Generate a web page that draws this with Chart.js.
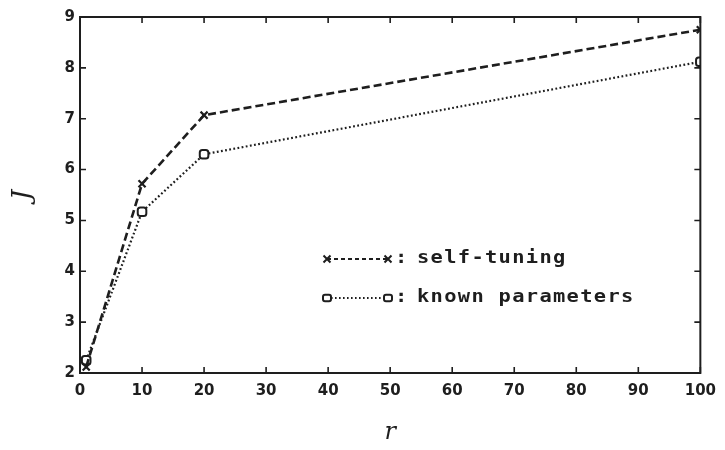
<!DOCTYPE html>
<html>
<head>
<meta charset="utf-8">
<style>
  html, body { margin: 0; padding: 0; background: #fff; }
  #wrap { width: 725px; height: 450px; }
</style>
<script src="https://cdn.jsdelivr.net/npm/chart.js@4/dist/chart.umd.min.js"></script>
</head>
<body>
<div id="wrap"><canvas id="c" width="725" height="450"></canvas></div>
<script>
// r values and cost J for the two controllers
const rValues = [1, 10, 20, 100];
const selfTuning = [2.12, 5.72, 7.07, 8.75];
const knownParams = [2.25, 5.17, 6.30, 8.12];

const xTicks = [0, 10, 20, 30, 40, 50, 60, 70, 80, 90, 100];
const yTicks = [2, 3, 4, 5, 6, 7, 8, 9];

const legendLabels = ['self-tuning', 'known parameters'];

const INK = '#1e1e1e';

function toPoints(ys) {
  return rValues.map((x, i) => ({ x: x, y: ys[i] }));
}

function drawCross(ctx, x, y, r) {
  ctx.beginPath();
  ctx.moveTo(x - r, y - r); ctx.lineTo(x + r, y + r);
  ctx.moveTo(x - r, y + r); ctx.lineTo(x + r, y - r);
  ctx.stroke();
}

function drawBox(ctx, x, y, r) {
  ctx.beginPath();
  ctx.roundRect(x - r, y - r * 0.8, 2 * r, 1.6 * r, 2);
  ctx.fillStyle = '#fff';
  ctx.fill();
  ctx.stroke();
}

// wide plotter-style text: monospace glyphs stretched horizontally
function wideText(ctx, text, x, y) {
  ctx.save();
  ctx.translate(x, y);
  ctx.scale(1.2, 1);
  ctx.fillText(text, 0, 0);
  ctx.restore();
}

// frame around the plot, inward tick marks and the in-plot key
const framePlugin = {
  id: 'frame',
  afterDraw(chart) {
    const { ctx, chartArea: a, scales } = chart;
    ctx.save();
    ctx.strokeStyle = INK;
    ctx.lineWidth = 2;
    ctx.strokeRect(a.left, a.top, a.right - a.left, a.bottom - a.top);

    const len = 6;
    ctx.lineWidth = 1.6;
    ctx.beginPath();
    xTicks.forEach(v => {
      const px = scales.x.getPixelForValue(v);
      ctx.moveTo(px, a.bottom); ctx.lineTo(px, a.bottom - len);
      ctx.moveTo(px, a.top); ctx.lineTo(px, a.top + len);
    });
    yTicks.forEach(v => {
      const py = scales.y.getPixelForValue(v);
      ctx.moveTo(a.left, py); ctx.lineTo(a.left + len, py);
      ctx.moveTo(a.right, py); ctx.lineTo(a.right - len, py);
    });
    ctx.stroke();

    // key
    const kx0 = 327, kx1 = 388, ky = [259, 298];
    ctx.lineWidth = 2;
    ctx.setLineDash([4, 3]);
    ctx.beginPath(); ctx.moveTo(kx0, ky[0]); ctx.lineTo(kx1, ky[0]); ctx.stroke();
    ctx.setLineDash([1.6, 2.4]);
    ctx.beginPath(); ctx.moveTo(kx0, ky[1]); ctx.lineTo(kx1, ky[1]); ctx.stroke();
    ctx.setLineDash([]);
    ctx.lineWidth = 2;
    drawCross(ctx, kx0, ky[0], 3.5);
    drawCross(ctx, kx1, ky[0], 3.5);
    drawBox(ctx, kx0, ky[1], 4);
    drawBox(ctx, kx1, ky[1], 4);

    ctx.fillStyle = INK;
    ctx.font = 'bold 17px "DejaVu Sans Mono"';
    ctx.textBaseline = 'middle';
    ctx.textAlign = 'left';
    ctx.letterSpacing = '1.1px';
    legendLabels.forEach((t, i) => {
      wideText(ctx, ':', 395, ky[i]);
      wideText(ctx, t, 417, ky[i]);
    });
    ctx.restore();
  }
};

new Chart(document.getElementById('c'), {
  type: 'scatter',
  data: {
    datasets: [
      {
        label: legendLabels[0],
        data: toPoints(selfTuning),
        showLine: true,
        borderColor: INK,
        borderWidth: 2.6,
        borderDash: [8, 4],
        pointStyle: 'crossRot',
        pointRadius: 5,
        pointBorderWidth: 2.2,
        pointBorderColor: INK,
        pointBackgroundColor: INK,
        tension: 0
      },
      {
        label: legendLabels[1],
        data: toPoints(knownParams),
        showLine: true,
        borderColor: INK,
        borderWidth: 2.2,
        borderDash: [1.8, 2.4],
        pointStyle: 'rectRounded',
        pointRadius: 5,
        pointBorderWidth: 2,
        pointBorderColor: INK,
        pointBackgroundColor: '#fff',
        tension: 0
      }
    ]
  },
  plugins: [framePlugin],
  options: {
    responsive: false,
    animation: false,
    events: [],
    layout: { padding: { top: 17, right: 17, left: 0, bottom: 0 } },
    plugins: {
      legend: { display: false },
      tooltip: { enabled: false }
    },
    scales: {
      x: {
        type: 'linear',
        min: 0, max: 100,
        afterFit(s) { s.height = 77; },
        afterBuildTicks(s) { s.ticks = xTicks.map(v => ({ value: v })); },
        grid: { display: false, drawTicks: false },
        border: { display: false },
        ticks: {
          color: INK,
          padding: 9,
          maxRotation: 0,
          font: { family: '"DejaVu Sans"', weight: 'bold', size: 15 }
        },
        title: {
          display: true,
          text: 'r',
          color: INK,
          padding: { top: 0, bottom: 3 },
          font: { family: '"DejaVu Serif"', style: 'italic', size: 24 }
        }
      },
      y: {
        type: 'linear',
        min: 2, max: 9,
        afterFit(s) { s.width = 80; },
        afterBuildTicks(s) { s.ticks = yTicks.map(v => ({ value: v })); },
        grid: { display: false, drawTicks: false },
        border: { display: false },
        ticks: {
          color: INK,
          padding: 5,
          font: { family: '"DejaVu Sans"', weight: 'bold', size: 15 }
        },
        title: {
          display: true,
          text: 'J',
          color: INK,
          padding: { top: 8, bottom: 0 },
          font: { family: '"DejaVu Serif"', style: 'italic', size: 26 }
        }
      }
    }
  }
});
</script>
</body>
</html>
